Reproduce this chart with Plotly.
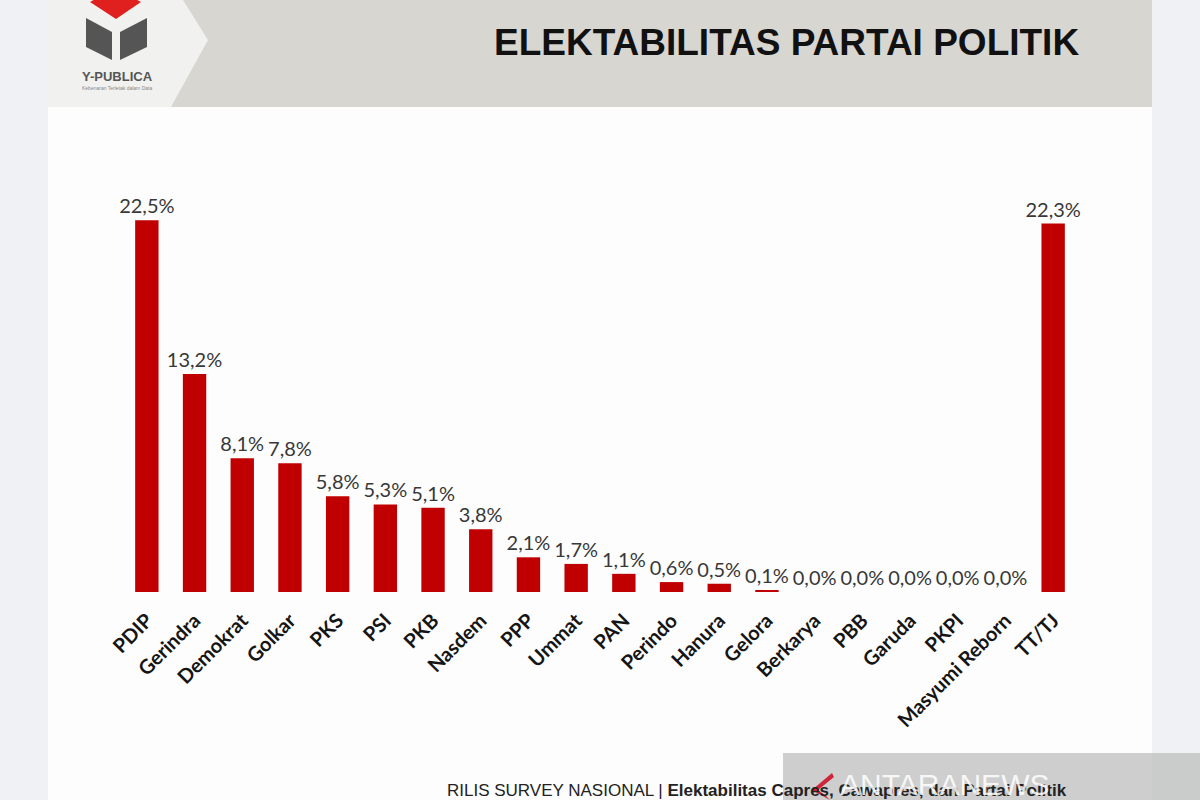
import plotly.graph_objects as go

parties = ["PDIP", "Gerindra", "Demokrat", "Golkar", "PKS", "PSI", "PKB", "Nasdem",
           "PPP", "Ummat", "PAN", "Perindo", "Hanura", "Gelora", "Berkarya", "PBB",
           "Garuda", "PKPI", "Masyumi Reborn", "TT/TJ"]
values = [22.5, 13.2, 8.1, 7.8, 5.8, 5.3, 5.1, 3.8, 2.1, 1.7, 1.1, 0.6, 0.5, 0.1,
          0.0, 0.0, 0.0, 0.0, 0.0, 22.3]
value_labels = [f"{v:.1f}%".replace(".", ",") for v in values]

title_text = "ELEKTABILITAS PARTAI POLITIK"
footer_plain = "RILIS SURVEY NASIONAL | "
footer_bold = "Elektabilitas Capres, Cawapres, dan Partai Politik"

W, H = 1200, 800
ML, MR, MT, MB = 123, 123, 179, 208
PW, PH = W - ML - MR, H - MT - MB


def px(x):
    return (x - ML) / PW


def py(y):
    return (H - MB - y) / PH


def path(points):
    return "M " + " L ".join(f"{px(x):.5f},{py(y):.5f}" for x, y in points) + " Z"


fig = go.Figure()
fig.add_trace(go.Bar(
    x=parties, y=values, width=0.49,
    marker=dict(color="#c00000", line=dict(width=0)),
    text=value_labels, textposition="outside", constraintext="none",
    textfont=dict(family="Lato", size=20, color="#383838"),
    cliponaxis=False, hoverinfo="skip",
))

shapes = []
# outer strips
shapes.append(dict(type="rect", xref="paper", yref="paper", x0=px(0), x1=px(48), y0=py(800), y1=py(0),
                   fillcolor="#eff1f4", line=dict(width=0), layer="below"))
shapes.append(dict(type="rect", xref="paper", yref="paper", x0=px(1152), x1=px(1200), y0=py(800), y1=py(0),
                   fillcolor="#eff1f4", line=dict(width=0), layer="below"))
# header band
shapes.append(dict(type="rect", xref="paper", yref="paper", x0=px(48), x1=px(1152), y0=py(107), y1=py(0),
                   fillcolor="#d8d6d1", line=dict(width=0), layer="below"))
# logo panel with chevron
shapes.append(dict(type="path", xref="paper", yref="paper",
                   path=path([(48, 0), (183, 0), (208, 40), (171, 107), (48, 107)]),
                   fillcolor="#f1f1ef", line=dict(width=0), layer="below"))
# logo cube
shapes.append(dict(type="path", xref="paper", yref="paper",
                   path=path([(90, 2), (115, -12), (141, 2), (116, 19)]),
                   fillcolor="#e0201f", line=dict(width=0), layer="below"))
shapes.append(dict(type="path", xref="paper", yref="paper",
                   path=path([(86, 18), (112, 32), (112, 60), (86, 47)]),
                   fillcolor="#555555", line=dict(width=0), layer="below"))
shapes.append(dict(type="path", xref="paper", yref="paper",
                   path=path([(120, 32), (147, 18), (147, 47), (120, 60)]),
                   fillcolor="#555555", line=dict(width=0), layer="below"))
# watermark box
shapes.append(dict(type="rect", xref="paper", yref="paper", x0=px(783), x1=px(1200), y0=py(800), y1=py(753),
                   fillcolor="rgba(190,190,190,0.75)", line=dict(width=0), layer="above"))
shapes.append(dict(type="path", xref="paper", yref="paper",
                   path=path([(832, 773), (812, 790), (830, 800), (826, 796), (818, 790), (834, 777)]),
                   fillcolor="#d0243a", line=dict(width=0), layer="above"))

annotations = [
    dict(text=f"<b>{title_text}</b>", x=px(786), y=py(43), xref="paper", yref="paper",
         showarrow=False, xanchor="center", yanchor="middle",
         font=dict(family="Liberation Sans", size=37, color="#111111")),
    dict(text="<b>Y-PUBLICA</b>", x=px(117), y=py(76), xref="paper", yref="paper",
         showarrow=False, xanchor="center", yanchor="middle",
         font=dict(family="Liberation Sans", size=13, color="#555555")),
    dict(text="Kebenaran Terletak dalam Data", x=px(117), y=py(88), xref="paper", yref="paper",
         showarrow=False, xanchor="center", yanchor="middle",
         font=dict(family="Liberation Sans", size=5, color="#888888")),
    dict(text=f"{footer_plain}<b>{footer_bold}</b>", x=px(445), y=py(790), xref="paper", yref="paper",
         showarrow=False, xanchor="left", yanchor="middle",
         font=dict(family="Liberation Sans", size=17, color="#222222")),
    dict(text="ANTARANEWS", x=px(838), y=py(784), xref="paper", yref="paper",
         showarrow=False, xanchor="left", yanchor="middle",
         font=dict(family="Liberation Sans", size=30, color="rgba(255,255,255,0.85)")),
]

fig.update_layout(
    width=W, height=H,
    margin=dict(l=ML, r=MR, t=MT, b=MB, autoexpand=False),
    paper_bgcolor="#fdfdfd", plot_bgcolor="rgba(0,0,0,0)",
    showlegend=False,
    shapes=shapes, annotations=annotations,
    xaxis=dict(range=[-0.5, len(parties) - 0.5], tickangle=-45, ticks="",
               tickfont=dict(family="Lato", size=20, color="#151515", weight="bold"),
               showgrid=False, zeroline=False, showline=False, ticklabelstandoff=12),
    yaxis=dict(range=[0, 25], visible=False, showgrid=False, zeroline=False),
)

fig.write_html("out.html", config={"displayModeBar": False},
               post_script="document.body.style.margin='0';document.body.style.overflow='hidden';")
